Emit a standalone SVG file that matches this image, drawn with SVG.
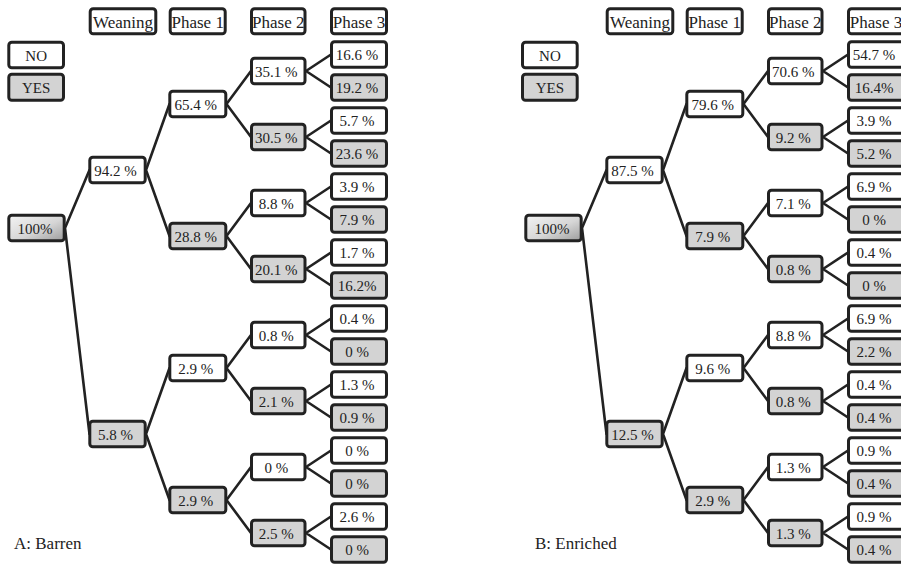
<svg xmlns="http://www.w3.org/2000/svg" xmlns:xlink="http://www.w3.org/1999/xlink" width="901" height="564" viewBox="0 0 901 564">
  <defs>
    <linearGradient id="rootFill" x1="0" y1="0" x2="1" y2="1">
      <stop offset="0" stop-color="#f4f4f4"/>
      <stop offset="0.55" stop-color="#d6d6d6"/>
      <stop offset="1" stop-color="#9c9c9c"/>
    </linearGradient>
    <style>
      .box { stroke: #222; stroke-width: 3; }
      .no { fill: #ffffff; }
      .yes { fill: #d3d3d3; }
      .root { fill: url(#rootFill); }
      .hd { fill: #ffffff; }
      text { font-family: "Liberation Serif", "Times New Roman", serif; fill: #222; }
      .num { font-size: 15px; text-anchor: middle; }
      .head { font-size: 17px; text-anchor: middle; }
      .leg { font-size: 15px; text-anchor: middle; }
      .cap { font-size: 17px; }
      .link { fill: none; stroke: #222; stroke-width: 2.6; stroke-linecap: round; }
    </style>
    <!-- shared tree connectors: root -> weaning -> phase 1 -> phase 2 -> phase 3 -->
    <path id="treeLinks" class="link" d="M65 228 L89.5 170 M65 228 L89.5 434
      M146 170 L169.5 104 M146 170 L169.5 236 M146 434 L169.5 368 M146 434 L169.5 500
      M226.5 104 L251 71 M226.5 104 L251 137 M226.5 236 L251 203 M226.5 236 L251 269
      M226.5 368 L251 335 M226.5 368 L251 401 M226.5 500 L251 467 M226.5 500 L251 533
      M306 71 L331 54.5 M306 71 L331 87.5 M306 137 L331 120.5 M306 137 L331 153.5
      M306 203 L331 186.5 M306 203 L331 219.5 M306 269 L331 252.5 M306 269 L331 285.5
      M306 335 L331 318.5 M306 335 L331 351.5 M306 401 L331 384.5 M306 401 L331 417.5
      M306 467 L331 450.5 M306 467 L331 483.5 M306 533 L331 516.5 M306 533 L331 549.5"/>
  </defs>

  <rect x="0" y="0" width="901" height="564" fill="#ffffff"/>

  <!-- ===== Panel A: Barren ===== -->
  <g id="panel-a">
    <g id="a-connectors"><use xlink:href="#treeLinks" href="#treeLinks"/></g>

    <g id="a-head-weaning"><rect class="box hd" x="90.2" y="8.8" width="65.6" height="25" rx="3"/><text class="head" x="123" y="28">Weaning</text></g>
    <g id="a-head-phase1"><rect class="box hd" x="170.2" y="8.8" width="55" height="25" rx="3"/><text class="head" x="197.7" y="28">Phase 1</text></g>
    <g id="a-head-phase2"><rect class="box hd" x="251.5" y="8.8" width="53.5" height="25" rx="3"/><text class="head" x="278.3" y="28">Phase 2</text></g>
    <g id="a-head-phase3"><rect class="box hd" x="331.5" y="8.8" width="55" height="25" rx="3"/><text class="head" x="359" y="28">Phase 3</text></g>

    <g id="a-legend-no"><rect class="box no" x="8.8" y="42.2" width="54.7" height="25.6" rx="3"/><text class="leg" x="36.2" y="60.5">NO</text></g>
    <g id="a-legend-yes"><rect class="box yes" x="8.8" y="74.2" width="54.7" height="26" rx="3"/><text class="leg" x="36.2" y="92.5">YES</text></g>

    <g id="a-root"><rect class="box root" x="8.8" y="215.25" width="55.4" height="25.5" rx="3"/><text class="num" x="35" y="233.5">100%</text></g>

    <g id="a-w1"><rect class="box no" x="89.8" y="157.25" width="55.4" height="25.5" rx="3"/><text class="num" x="115.5" y="175.5">94.2 %</text></g>
    <g id="a-w2"><rect class="box yes" x="89.8" y="421.25" width="55.4" height="25.5" rx="3"/><text class="num" x="115.5" y="439.5">5.8 %</text></g>

    <g id="a-p1-1"><rect class="box no" x="169.8" y="91.25" width="56" height="25.5" rx="3"/><text class="num" x="195.8" y="109.5">65.4 %</text></g>
    <g id="a-p1-2"><rect class="box yes" x="169.8" y="223.25" width="56" height="25.5" rx="3"/><text class="num" x="195.8" y="241.5">28.8 %</text></g>
    <g id="a-p1-3"><rect class="box no" x="169.8" y="355.25" width="56" height="25.5" rx="3"/><text class="num" x="195.8" y="373.5">2.9 %</text></g>
    <g id="a-p1-4"><rect class="box yes" x="169.8" y="487.25" width="56" height="25.5" rx="3"/><text class="num" x="195.8" y="505.5">2.9 %</text></g>

    <g id="a-p2-1"><rect class="box no" x="251.5" y="58.25" width="53.5" height="25.5" rx="3"/><text class="num" x="276.3" y="76.5">35.1 %</text></g>
    <g id="a-p2-2"><rect class="box yes" x="251.5" y="124.25" width="53.5" height="25.5" rx="3"/><text class="num" x="276.3" y="142.5">30.5 %</text></g>
    <g id="a-p2-3"><rect class="box no" x="251.5" y="190.25" width="53.5" height="25.5" rx="3"/><text class="num" x="276.3" y="208.5">8.8 %</text></g>
    <g id="a-p2-4"><rect class="box yes" x="251.5" y="256.25" width="53.5" height="25.5" rx="3"/><text class="num" x="276.3" y="274.5">20.1 %</text></g>
    <g id="a-p2-5"><rect class="box no" x="251.5" y="322.25" width="53.5" height="25.5" rx="3"/><text class="num" x="276.3" y="340.5">0.8 %</text></g>
    <g id="a-p2-6"><rect class="box yes" x="251.5" y="388.25" width="53.5" height="25.5" rx="3"/><text class="num" x="276.3" y="406.5">2.1 %</text></g>
    <g id="a-p2-7"><rect class="box no" x="251.5" y="454.25" width="53.5" height="25.5" rx="3"/><text class="num" x="276.3" y="472.5">0 %</text></g>
    <g id="a-p2-8"><rect class="box yes" x="251.5" y="520.25" width="53.5" height="25.5" rx="3"/><text class="num" x="276.3" y="538.5">2.5 %</text></g>

    <g id="a-p3-1"><rect class="box no" x="331.5" y="41.75" width="55" height="25.5" rx="3"/><text class="num" x="357" y="60">16.6 %</text></g>
    <g id="a-p3-2"><rect class="box yes" x="331.5" y="74.75" width="55" height="25.5" rx="3"/><text class="num" x="357" y="93">19.2 %</text></g>
    <g id="a-p3-3"><rect class="box no" x="331.5" y="107.75" width="55" height="25.5" rx="3"/><text class="num" x="357" y="126">5.7 %</text></g>
    <g id="a-p3-4"><rect class="box yes" x="331.5" y="140.75" width="55" height="25.5" rx="3"/><text class="num" x="357" y="159">23.6 %</text></g>
    <g id="a-p3-5"><rect class="box no" x="331.5" y="173.75" width="55" height="25.5" rx="3"/><text class="num" x="357" y="192">3.9 %</text></g>
    <g id="a-p3-6"><rect class="box yes" x="331.5" y="206.75" width="55" height="25.5" rx="3"/><text class="num" x="357" y="225">7.9 %</text></g>
    <g id="a-p3-7"><rect class="box no" x="331.5" y="239.75" width="55" height="25.5" rx="3"/><text class="num" x="357" y="258">1.7 %</text></g>
    <g id="a-p3-8"><rect class="box yes" x="331.5" y="272.75" width="55" height="25.5" rx="3"/><text class="num" x="357" y="291">16.2%</text></g>
    <g id="a-p3-9"><rect class="box no" x="331.5" y="305.75" width="55" height="25.5" rx="3"/><text class="num" x="357" y="324">0.4 %</text></g>
    <g id="a-p3-10"><rect class="box yes" x="331.5" y="338.75" width="55" height="25.5" rx="3"/><text class="num" x="357" y="357">0 %</text></g>
    <g id="a-p3-11"><rect class="box no" x="331.5" y="371.75" width="55" height="25.5" rx="3"/><text class="num" x="357" y="390">1.3 %</text></g>
    <g id="a-p3-12"><rect class="box yes" x="331.5" y="404.75" width="55" height="25.5" rx="3"/><text class="num" x="357" y="423">0.9 %</text></g>
    <g id="a-p3-13"><rect class="box no" x="331.5" y="437.75" width="55" height="25.5" rx="3"/><text class="num" x="357" y="456">0 %</text></g>
    <g id="a-p3-14"><rect class="box yes" x="331.5" y="470.75" width="55" height="25.5" rx="3"/><text class="num" x="357" y="489">0 %</text></g>
    <g id="a-p3-15"><rect class="box no" x="331.5" y="503.75" width="55" height="25.5" rx="3"/><text class="num" x="357" y="522">2.6 %</text></g>
    <g id="a-p3-16"><rect class="box yes" x="331.5" y="536.75" width="55" height="25.5" rx="3"/><text class="num" x="357" y="555">0 %</text></g>

    <text id="a-caption" class="cap" x="14" y="549">A: Barren</text>
  </g>

  <!-- ===== Panel B: Enriched ===== -->
  <g id="panel-b" transform="translate(517,0)">
    <g id="b-connectors"><use xlink:href="#treeLinks" href="#treeLinks"/></g>

    <g id="b-head-weaning"><rect class="box hd" x="90.2" y="8.8" width="65.6" height="25" rx="3"/><text class="head" x="123" y="28">Weaning</text></g>
    <g id="b-head-phase1"><rect class="box hd" x="170.2" y="8.8" width="55" height="25" rx="3"/><text class="head" x="197.7" y="28">Phase 1</text></g>
    <g id="b-head-phase2"><rect class="box hd" x="251.5" y="8.8" width="53.5" height="25" rx="3"/><text class="head" x="278.3" y="28">Phase 2</text></g>
    <g id="b-head-phase3"><rect class="box hd" x="331.5" y="8.8" width="55" height="25" rx="3"/><text class="head" x="359" y="28">Phase 3</text></g>

    <g id="b-legend-no"><rect class="box no" x="5.5" y="42.2" width="54.7" height="25.6" rx="3"/><text class="leg" x="32.9" y="60.5">NO</text></g>
    <g id="b-legend-yes"><rect class="box yes" x="5.5" y="74.2" width="54.7" height="26" rx="3"/><text class="leg" x="32.9" y="92.5">YES</text></g>

    <g id="b-root"><rect class="box root" x="8.8" y="215.25" width="55.4" height="25.5" rx="3"/><text class="num" x="35" y="233.5">100%</text></g>

    <g id="b-w1"><rect class="box no" x="89.8" y="157.25" width="55.4" height="25.5" rx="3"/><text class="num" x="115.5" y="175.5">87.5 %</text></g>
    <g id="b-w2"><rect class="box yes" x="89.8" y="421.25" width="55.4" height="25.5" rx="3"/><text class="num" x="115.5" y="439.5">12.5 %</text></g>

    <g id="b-p1-1"><rect class="box no" x="169.8" y="91.25" width="56" height="25.5" rx="3"/><text class="num" x="195.8" y="109.5">79.6 %</text></g>
    <g id="b-p1-2"><rect class="box yes" x="169.8" y="223.25" width="56" height="25.5" rx="3"/><text class="num" x="195.8" y="241.5">7.9 %</text></g>
    <g id="b-p1-3"><rect class="box no" x="169.8" y="355.25" width="56" height="25.5" rx="3"/><text class="num" x="195.8" y="373.5">9.6 %</text></g>
    <g id="b-p1-4"><rect class="box yes" x="169.8" y="487.25" width="56" height="25.5" rx="3"/><text class="num" x="195.8" y="505.5">2.9 %</text></g>

    <g id="b-p2-1"><rect class="box no" x="251.5" y="58.25" width="53.5" height="25.5" rx="3"/><text class="num" x="276.3" y="76.5">70.6 %</text></g>
    <g id="b-p2-2"><rect class="box yes" x="251.5" y="124.25" width="53.5" height="25.5" rx="3"/><text class="num" x="276.3" y="142.5">9.2 %</text></g>
    <g id="b-p2-3"><rect class="box no" x="251.5" y="190.25" width="53.5" height="25.5" rx="3"/><text class="num" x="276.3" y="208.5">7.1 %</text></g>
    <g id="b-p2-4"><rect class="box yes" x="251.5" y="256.25" width="53.5" height="25.5" rx="3"/><text class="num" x="276.3" y="274.5">0.8 %</text></g>
    <g id="b-p2-5"><rect class="box no" x="251.5" y="322.25" width="53.5" height="25.5" rx="3"/><text class="num" x="276.3" y="340.5">8.8 %</text></g>
    <g id="b-p2-6"><rect class="box yes" x="251.5" y="388.25" width="53.5" height="25.5" rx="3"/><text class="num" x="276.3" y="406.5">0.8 %</text></g>
    <g id="b-p2-7"><rect class="box no" x="251.5" y="454.25" width="53.5" height="25.5" rx="3"/><text class="num" x="276.3" y="472.5">1.3 %</text></g>
    <g id="b-p2-8"><rect class="box yes" x="251.5" y="520.25" width="53.5" height="25.5" rx="3"/><text class="num" x="276.3" y="538.5">1.3 %</text></g>

    <g id="b-p3-1"><rect class="box no" x="331.5" y="41.75" width="55" height="25.5" rx="3"/><text class="num" x="357" y="60">54.7 %</text></g>
    <g id="b-p3-2"><rect class="box yes" x="331.5" y="74.75" width="55" height="25.5" rx="3"/><text class="num" x="357" y="93">16.4%</text></g>
    <g id="b-p3-3"><rect class="box no" x="331.5" y="107.75" width="55" height="25.5" rx="3"/><text class="num" x="357" y="126">3.9 %</text></g>
    <g id="b-p3-4"><rect class="box yes" x="331.5" y="140.75" width="55" height="25.5" rx="3"/><text class="num" x="357" y="159">5.2 %</text></g>
    <g id="b-p3-5"><rect class="box no" x="331.5" y="173.75" width="55" height="25.5" rx="3"/><text class="num" x="357" y="192">6.9 %</text></g>
    <g id="b-p3-6"><rect class="box yes" x="331.5" y="206.75" width="55" height="25.5" rx="3"/><text class="num" x="357" y="225">0 %</text></g>
    <g id="b-p3-7"><rect class="box no" x="331.5" y="239.75" width="55" height="25.5" rx="3"/><text class="num" x="357" y="258">0.4 %</text></g>
    <g id="b-p3-8"><rect class="box yes" x="331.5" y="272.75" width="55" height="25.5" rx="3"/><text class="num" x="357" y="291">0 %</text></g>
    <g id="b-p3-9"><rect class="box no" x="331.5" y="305.75" width="55" height="25.5" rx="3"/><text class="num" x="357" y="324">6.9 %</text></g>
    <g id="b-p3-10"><rect class="box yes" x="331.5" y="338.75" width="55" height="25.5" rx="3"/><text class="num" x="357" y="357">2.2 %</text></g>
    <g id="b-p3-11"><rect class="box no" x="331.5" y="371.75" width="55" height="25.5" rx="3"/><text class="num" x="357" y="390">0.4 %</text></g>
    <g id="b-p3-12"><rect class="box yes" x="331.5" y="404.75" width="55" height="25.5" rx="3"/><text class="num" x="357" y="423">0.4 %</text></g>
    <g id="b-p3-13"><rect class="box no" x="331.5" y="437.75" width="55" height="25.5" rx="3"/><text class="num" x="357" y="456">0.9 %</text></g>
    <g id="b-p3-14"><rect class="box yes" x="331.5" y="470.75" width="55" height="25.5" rx="3"/><text class="num" x="357" y="489">0.4 %</text></g>
    <g id="b-p3-15"><rect class="box no" x="331.5" y="503.75" width="55" height="25.5" rx="3"/><text class="num" x="357" y="522">0.9 %</text></g>
    <g id="b-p3-16"><rect class="box yes" x="331.5" y="536.75" width="55" height="25.5" rx="3"/><text class="num" x="357" y="555">0.4 %</text></g>

    <text id="b-caption" class="cap" x="18" y="549">B: Enriched</text>
  </g>
</svg>
